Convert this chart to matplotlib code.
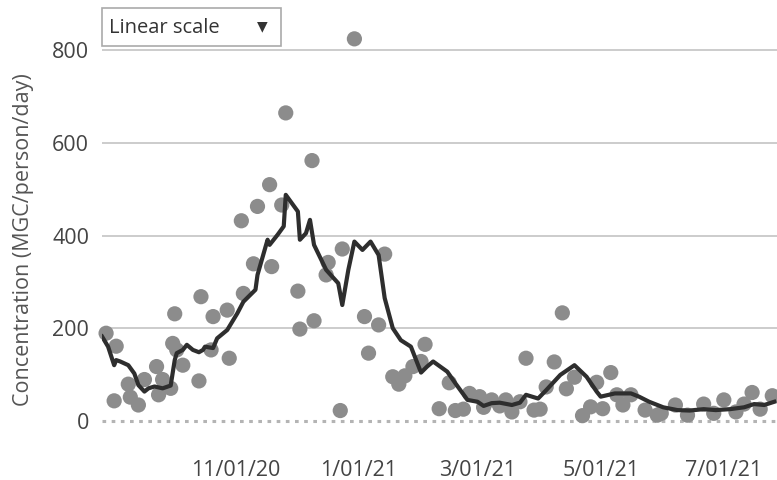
import numpy as np
import pandas as pd
import matplotlib
matplotlib.use('Agg')
import matplotlib.pyplot as plt
import matplotlib.dates as mdates

plt.rcParams['font.family'] = ['Open Sans', 'DejaVu Sans']

# individual samples (grey dots)
sample_dates = ['2020-08-29', '2020-09-02', '2020-09-03', '2020-09-09', '2020-09-10',
                '2020-09-14', '2020-09-17', '2020-09-23', '2020-09-24', '2020-09-26',
                '2020-09-30', '2020-10-01', '2020-10-02', '2020-10-03', '2020-10-06',
                '2020-10-14', '2020-10-15', '2020-10-20', '2020-10-21', '2020-10-28',
                '2020-10-29', '2020-11-04', '2020-11-05', '2020-11-10', '2020-11-12',
                '2020-11-18', '2020-11-19', '2020-11-24', '2020-11-26', '2020-12-02',
                '2020-12-03', '2020-12-09', '2020-12-10', '2020-12-16', '2020-12-17',
                '2020-12-23', '2020-12-24', '2020-12-30', '2021-01-04', '2021-01-06',
                '2021-01-11', '2021-01-14', '2021-01-18', '2021-01-21', '2021-01-24',
                '2021-01-28', '2021-02-01', '2021-02-03', '2021-02-10', '2021-02-15',
                '2021-02-18', '2021-02-22', '2021-02-25', '2021-03-02', '2021-03-04',
                '2021-03-08', '2021-03-12', '2021-03-15', '2021-03-18', '2021-03-22',
                '2021-03-25', '2021-03-29', '2021-04-01', '2021-04-04', '2021-04-08',
                '2021-04-12', '2021-04-14', '2021-04-18', '2021-04-22', '2021-04-26',
                '2021-04-29', '2021-05-02', '2021-05-06', '2021-05-09', '2021-05-12',
                '2021-05-16', '2021-05-23', '2021-05-29', '2021-05-31', '2021-06-07',
                '2021-06-13', '2021-06-21', '2021-06-26', '2021-07-01', '2021-07-07',
                '2021-07-11', '2021-07-15', '2021-07-19', '2021-07-25']
sample_vals = [189, 43, 161, 79, 51,
               34, 89, 117, 56, 89,
               70, 167, 231, 153, 120,
               86, 268, 153, 225, 239,
               135, 432, 275, 339, 463,
               510, 333, 466, 665, 280,
               198, 562, 216, 315, 342,
               22, 371, 825, 225, 146,
               207, 360, 95, 79, 97,
               117, 128, 165, 26, 82,
               22, 25, 59, 52, 29,
               45, 32, 45, 19, 41,
               135, 23, 25, 73, 127,
               233, 69, 94, 11, 30,
               83, 26, 104, 56, 34,
               56, 23, 12, 16, 34,
               12, 36, 16, 45, 19,
               36, 61, 25, 54]

# rolling average (dark line)
avg_dates = ['2020-08-27', '2020-08-30', '2020-09-02', '2020-09-03', '2020-09-05',
             '2020-09-09', '2020-09-12', '2020-09-14', '2020-09-17', '2020-09-19',
             '2020-09-22', '2020-09-26', '2020-09-30', '2020-10-02', '2020-10-03',
             '2020-10-06', '2020-10-08', '2020-10-11', '2020-10-14', '2020-10-16',
             '2020-10-17', '2020-10-21', '2020-10-23', '2020-10-28', '2020-11-02',
             '2020-11-05', '2020-11-11', '2020-11-12', '2020-11-16', '2020-11-17',
             '2020-11-18', '2020-11-22', '2020-11-25', '2020-11-26', '2020-12-02',
             '2020-12-03', '2020-12-06', '2020-12-08', '2020-12-10', '2020-12-16',
             '2020-12-22', '2020-12-24', '2020-12-27', '2020-12-30', '2021-01-03',
             '2021-01-07', '2021-01-11', '2021-01-14', '2021-01-18', '2021-01-22',
             '2021-01-27', '2021-02-01', '2021-02-04', '2021-02-07', '2021-02-14',
             '2021-02-18', '2021-02-24', '2021-03-01', '2021-03-04', '2021-03-08',
             '2021-03-12', '2021-03-18', '2021-03-22', '2021-03-25', '2021-03-31',
             '2021-04-04', '2021-04-11', '2021-04-18', '2021-04-24', '2021-04-29',
             '2021-05-01', '2021-05-08', '2021-05-16', '2021-05-20', '2021-05-25',
             '2021-06-01', '2021-06-08', '2021-06-14', '2021-06-21', '2021-06-27',
             '2021-07-04', '2021-07-11', '2021-07-16', '2021-07-21', '2021-07-26']
avg_vals = [182, 160, 120, 131, 128,
            120, 102, 77, 63, 70,
            74, 70, 76, 131, 146,
            153, 164, 153, 148, 153,
            160, 157, 178, 196, 232,
            257, 283, 315, 376, 391,
            380, 402, 420, 488, 452,
            391, 405, 434, 380, 326,
            297, 250, 326, 387, 369,
            387, 358, 265, 200, 174,
            160, 104, 117, 128, 106,
            81, 45, 41, 32, 38,
            39, 34, 39, 56, 48,
            66, 99, 120, 95, 63,
            52, 59, 59, 52, 41,
            29, 23, 22, 25, 23,
            25, 29, 36, 34, 41]

yticks = [0, 200, 400, 600, 800]
xtick_dates = ['2020-11-01', '2021-01-01', '2021-03-01', '2021-05-01', '2021-07-01']
xtick_labels = ['11/01/20', '1/01/21', '3/01/21', '5/01/21', '7/01/21']

sd = pd.to_datetime(sample_dates)
ad = pd.to_datetime(avg_dates)

fig = plt.figure(figsize=(7.77, 4.8), dpi=100)
ax = fig.add_axes([0.1309, 0.109, 0.8691, 0.839])

for v in yticks[1:]:
    ax.axhline(v, color='#c8c8c8', lw=1.3, zorder=1)
ax.axhline(0, color='#b4b4b4', lw=2.2, linestyle=(0, (1.2, 1.8)), zorder=1)

ax.scatter(sd, sample_vals, s=120, color='#8c8c8c', edgecolors='none', zorder=2, clip_on=False)
ax.plot(ad, avg_vals, color='#2e2e2e', lw=3.0, zorder=3)

ax.set_xlim(pd.Timestamp('2020-08-26 20:00'), pd.Timestamp('2021-07-27 08:00'))
ax.set_ylim(-15, 855)

ax.set_yticks(yticks)
ax.set_yticklabels([str(v) for v in yticks])
ax.set_xticks(pd.to_datetime(xtick_dates))
ax.set_xticklabels(xtick_labels)
ax.tick_params(length=0, labelsize=15.5, colors='#444444')
ax.tick_params(axis='y', pad=9)
ax.tick_params(axis='x', pad=23)
for s in ax.spines.values():
    s.set_visible(False)

fig.text(24/777, 1 - 240/480, 'Concentration (MGC/person/day)', fontsize=15.5,
         color='#555555', rotation=90, ha='center', va='center')

# dropdown box
fig.patches.append(plt.Rectangle((102/777, 1 - 46/480), 179/777, 38/480,
                                 transform=fig.transFigure, fill=False,
                                 edgecolor='#aaaaaa', lw=1.2))
fig.text(109/777, 1 - 28/480, 'Linear scale', fontsize=14.5, color='#333333', va='center')
fig.text(262/777, 1 - 27/480, '\u25bc', fontsize=10, color='#333333', va='center', ha='center')

fig.savefig('out.png', dpi=100)
